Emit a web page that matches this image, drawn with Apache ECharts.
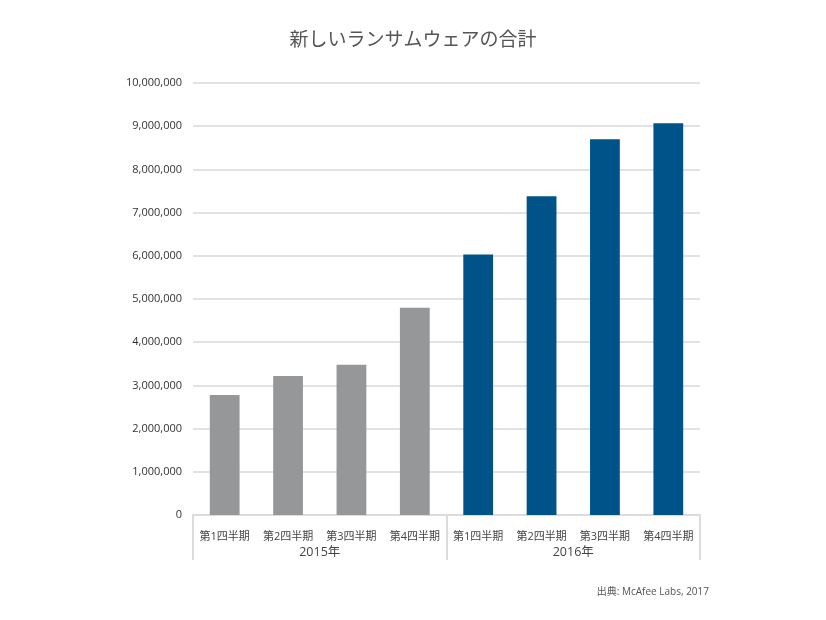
<!DOCTYPE html>
<html><head><meta charset="utf-8">
<script src="https://cdn.jsdelivr.net/npm/echarts@6/dist/echarts.min.js"></script>
<style>html,body{margin:0;padding:0;background:#fff}#c{width:826px;height:620px}</style>
</head><body><div id="c"></div>
<script>
const quarters = ['第1四半期','第2四半期','第3四半期','第4四半期','第1四半期','第2四半期','第3四半期','第4四半期'];
const years = ['2015年','2016年'];
const values = [2780000, 3220000, 3480000, 4800000, 6030000, 7380000, 8700000, 9070000];
const yearOfBar = [0,0,0,0,1,1,1,1];
const yearColors = ['#959799','#005388'];
const title = '新しいランサムウェアの合計';
const source = '出典: McAfee Labs, 2017';

const FONT = '"Open Sans", "Noto Sans CJK JP", sans-serif';
const chart = echarts.init(document.getElementById('c'));
chart.setOption({
  animation: false,
  title: [{
    text: title, left: 'center', top: 26,
    textStyle: {fontFamily: FONT, fontSize: 19, fontWeight: 'normal', color: '#555'}
  }, {
    text: source, right: 112, top: 582,
    textStyle: {fontFamily: FONT, fontSize: 10, fontWeight: 'normal', color: '#555'}
  }],
  grid: {left: 193, right: 126, top: 83, bottom: 105},
  xAxis: [{
    type: 'category', data: quarters, position: 'bottom',
    axisLine: {show: true, lineStyle: {color: '#dcdcdc', width: 2}},
    axisTick: {show: false},
    axisLabel: {interval: 0, margin: 16, fontFamily: FONT, fontSize: 11, color: '#444'}
  }, {
    type: 'category', data: years, position: 'bottom',
    axisLine: {show: true, lineStyle: {color: '#dcdcdc', width: 2}},
    axisTick: {show: true, length: 45, lineStyle: {color: '#dcdcdc', width: 2}},
    axisLabel: {interval: 0, margin: 31, fontFamily: FONT, fontSize: 12.5, color: '#444'}
  }],
  yAxis: {
    type: 'value', min: 0, max: 10000000, interval: 1000000,
    axisLine: {show: false}, axisTick: {show: false},
    splitLine: {lineStyle: {color: '#e2e2e2', width: 2}},
    axisLabel: {
      margin: 11, fontFamily: FONT, fontSize: 11, color: '#333',
      formatter: v => v.toLocaleString('en-US')
    }
  },
  series: [{
    type: 'bar', xAxisIndex: 0, barWidth: '47%',
    data: values.map((v, i) => ({value: v, itemStyle: {color: yearColors[yearOfBar[i]]}}))
  }]
});
</script></body></html>
